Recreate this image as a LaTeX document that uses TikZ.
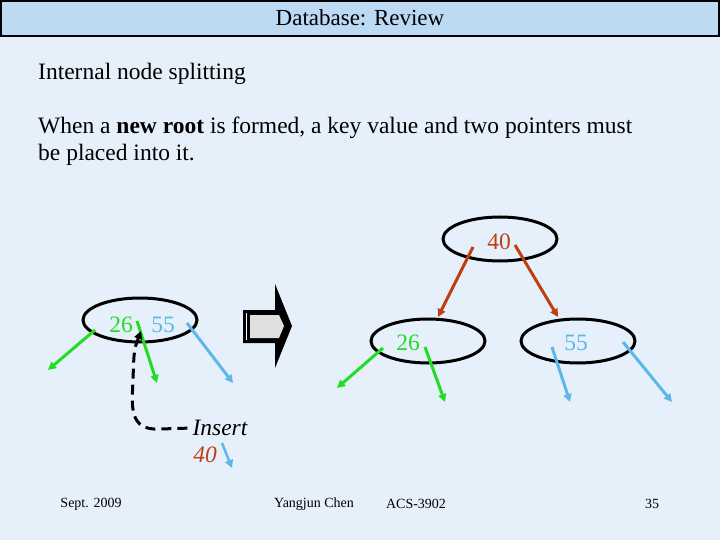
\documentclass[tikz,border=0pt]{standalone}
\usepackage{fontspec}
\setmainfont{Liberation Serif}
\usepackage{xcolor}
\usetikzlibrary{arrows.meta,positioning,shapes.geometric}
\definecolor{slidebg}{HTML}{E6F0FA}
\definecolor{titlebg}{HTML}{BDDAF4}
\definecolor{keygreen}{HTML}{22DD22}
\definecolor{keyblue}{HTML}{5CB8E8}
\definecolor{keyred}{HTML}{BF3F12}
\newcommand{\slidefont}{\fontsize{23.5}{28}\selectfont}

\begin{document}
\begin{tikzpicture}[
  x=1pt, y=-1pt,
  bnode/.style={draw, ellipse, line width=3pt, minimum width=114pt, minimum height=44pt, inner sep=0pt},
  key/.style={font=\slidefont, inner sep=0pt},
  ptr/.style={-{Triangle[length=8pt,width=8pt]}, line width=3pt},
  foot/.style={font=\fontsize{14}{16}\selectfont, inner sep=0pt}
]
\useasboundingbox (0,0) rectangle (720,540);
\fill[slidebg] (0,0) rectangle (720,540);
\draw[fill=titlebg, line width=1.5pt] (1,1) rectangle (719,36);
\node[font=\fontsize{23}{26}\selectfont, inner sep=0pt] (title) at (360,18) {Database: Review};

\node[font=\slidefont, inner sep=0pt, anchor=base west] (head) at (38,80) {Internal node splitting};
\node[font=\slidefont, inner sep=0pt, anchor=base west] (line1) at (38,134) {When a \textbf{new root} is formed, a key value and two pointers must};
\node[font=\slidefont, inner sep=0pt, anchor=base west] (line2) at (38,161) {be placed into it.};

% before the split
\node[bnode] (old) at (140,320) {};
\node[key, text=keygreen] (o26) at (121,325) {26};
\node[key, text=keyblue] (o55) at (163,325) {55};
\coordinate (o1) at (95,330);   \coordinate (o1e) at (48,370);
\coordinate (o2) at (137,321);  \coordinate (o2e) at (157,383);
\coordinate (o3) at (187,323);  \coordinate (o3e) at (233,383);
\draw[ptr, keygreen] (o1) -- (o1e);
\draw[ptr, keygreen] (o2) -- (o2e);
\draw[ptr, keyblue] (o3) -- (o3e);

\node[font=\slidefont\itshape, inner sep=0pt] (ins) at (220,428) {Insert};
\node[font=\slidefont\itshape, inner sep=0pt, text=keyred] (new) at (205,455) {40};
\coordinate (n1) at (222,443); \coordinate (n1e) at (232,468);
\draw[ptr, keyblue, line width=2.5pt] (n1) -- (n1e);
\coordinate (tip) at (141,331);
\draw[-{Triangle[length=8pt,width=8pt]}, line width=3pt, dash pattern=on 10pt off 6pt, shorten <=5pt]
  (ins.west) -- (160,429) .. controls (128,431) and (132,405) .. (133,380)
  .. controls (134,350) .. (tip);

% block arrow
\fill[black] (243,310) -- (275,310) -- (275,284) -- (292,326) -- (275,368) -- (275,343) -- (243,343) -- cycle;
\fill[gray!25] (250,315) -- (279,315) -- (284,326) -- (279,338) -- (250,338) -- cycle;
\draw[white, line width=0.6pt] (246,313) -- (246,340);

% after the split
\node[bnode] (root) at (500,239) {};
\node[key, text=keyred] (r40) at (499,242) {40};
\node[bnode] (left) at (428,341) {};
\node[key, text=keygreen] (l26) at (408,343) {26};
\node[bnode] (right) at (578,341) {};
\node[key, text=keyblue] (r55) at (576,343) {55};

\coordinate (r1) at (473,247);  \coordinate (r1e) at (438,317);
\coordinate (r2) at (515,245);  \coordinate (r2e) at (558,317);
\draw[ptr, keyred] (r1) -- (r1e);
\draw[ptr, keyred] (r2) -- (r2e);
\coordinate (l1) at (383,348);  \coordinate (l1e) at (337,388);
\coordinate (l2) at (425,347);  \coordinate (l2e) at (445,402);
\draw[ptr, keygreen] (l1) -- (l1e);
\draw[ptr, keygreen] (l2) -- (l2e);
\coordinate (b1) at (552,347);  \coordinate (b1e) at (570,402);
\coordinate (b2) at (623,342);  \coordinate (b2e) at (672,402);
\draw[ptr, keyblue] (b1) -- (b1e);
\draw[ptr, keyblue] (b2) -- (b2e);

% footer
\node[foot] (date) at (91,504) {Sept. 2009};
\node[foot] (author) at (314,504) {Yangjun Chen};
\node[foot] (course) at (416,504) {ACS-3902};
\node[foot] (page) at (652,504) {35};
\end{tikzpicture}
\end{document}
